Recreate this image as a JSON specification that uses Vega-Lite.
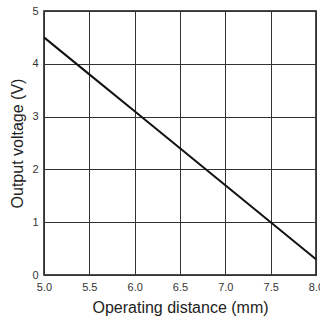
{
  "$schema": "https://vega.github.io/schema/vega-lite/v6.json",
  "autosize": "none",
  "width": 272,
  "height": 264,
  "padding": {"left": 44, "top": 11, "right": 4, "bottom": 45},
  "background": "white",
  "config": {
    "font": "Liberation Sans",
    "view": {"stroke": "#111", "strokeWidth": 1.5},
    "axis": {"gridColor": "#333", "gridWidth": 1, "gridOpacity": 1, "domain": false, "ticks": false, "labelFontSize": 11, "labelColor": "#333", "titleFontSize": 16, "titleFontWeight": "normal", "titleColor": "#222"}
  },
  "data": {"values": [
    {"d": 5.0, "v": 4.5},
    {"d": 5.5, "v": 3.8},
    {"d": 6.0, "v": 3.1},
    {"d": 6.5, "v": 2.4},
    {"d": 7.0, "v": 1.7},
    {"d": 7.5, "v": 1.0},
    {"d": 8.0, "v": 0.3}
  ]},
  "mark": {"type": "line", "color": "#111", "strokeWidth": 2},
  "encoding": {
    "x": {"field": "d", "type": "quantitative", "scale": {"domain": [5, 8], "nice": false, "zero": false},
      "axis": {"values": [5.0, 5.5, 6.0, 6.5, 7.0, 7.5, 8.0], "format": ".1f", "title": "Operating distance (mm)", "labelPadding": 6, "titlePadding": 7, "labelFlush": false, "labelOverlap": false}},
    "y": {"field": "v", "type": "quantitative", "scale": {"domain": [0, 5], "nice": false},
      "axis": {"values": [0, 1, 2, 3, 4, 5], "title": "Output voltage (V)", "labelPadding": 6, "titlePadding": 6, "labelFlush": false}}
  }
}
